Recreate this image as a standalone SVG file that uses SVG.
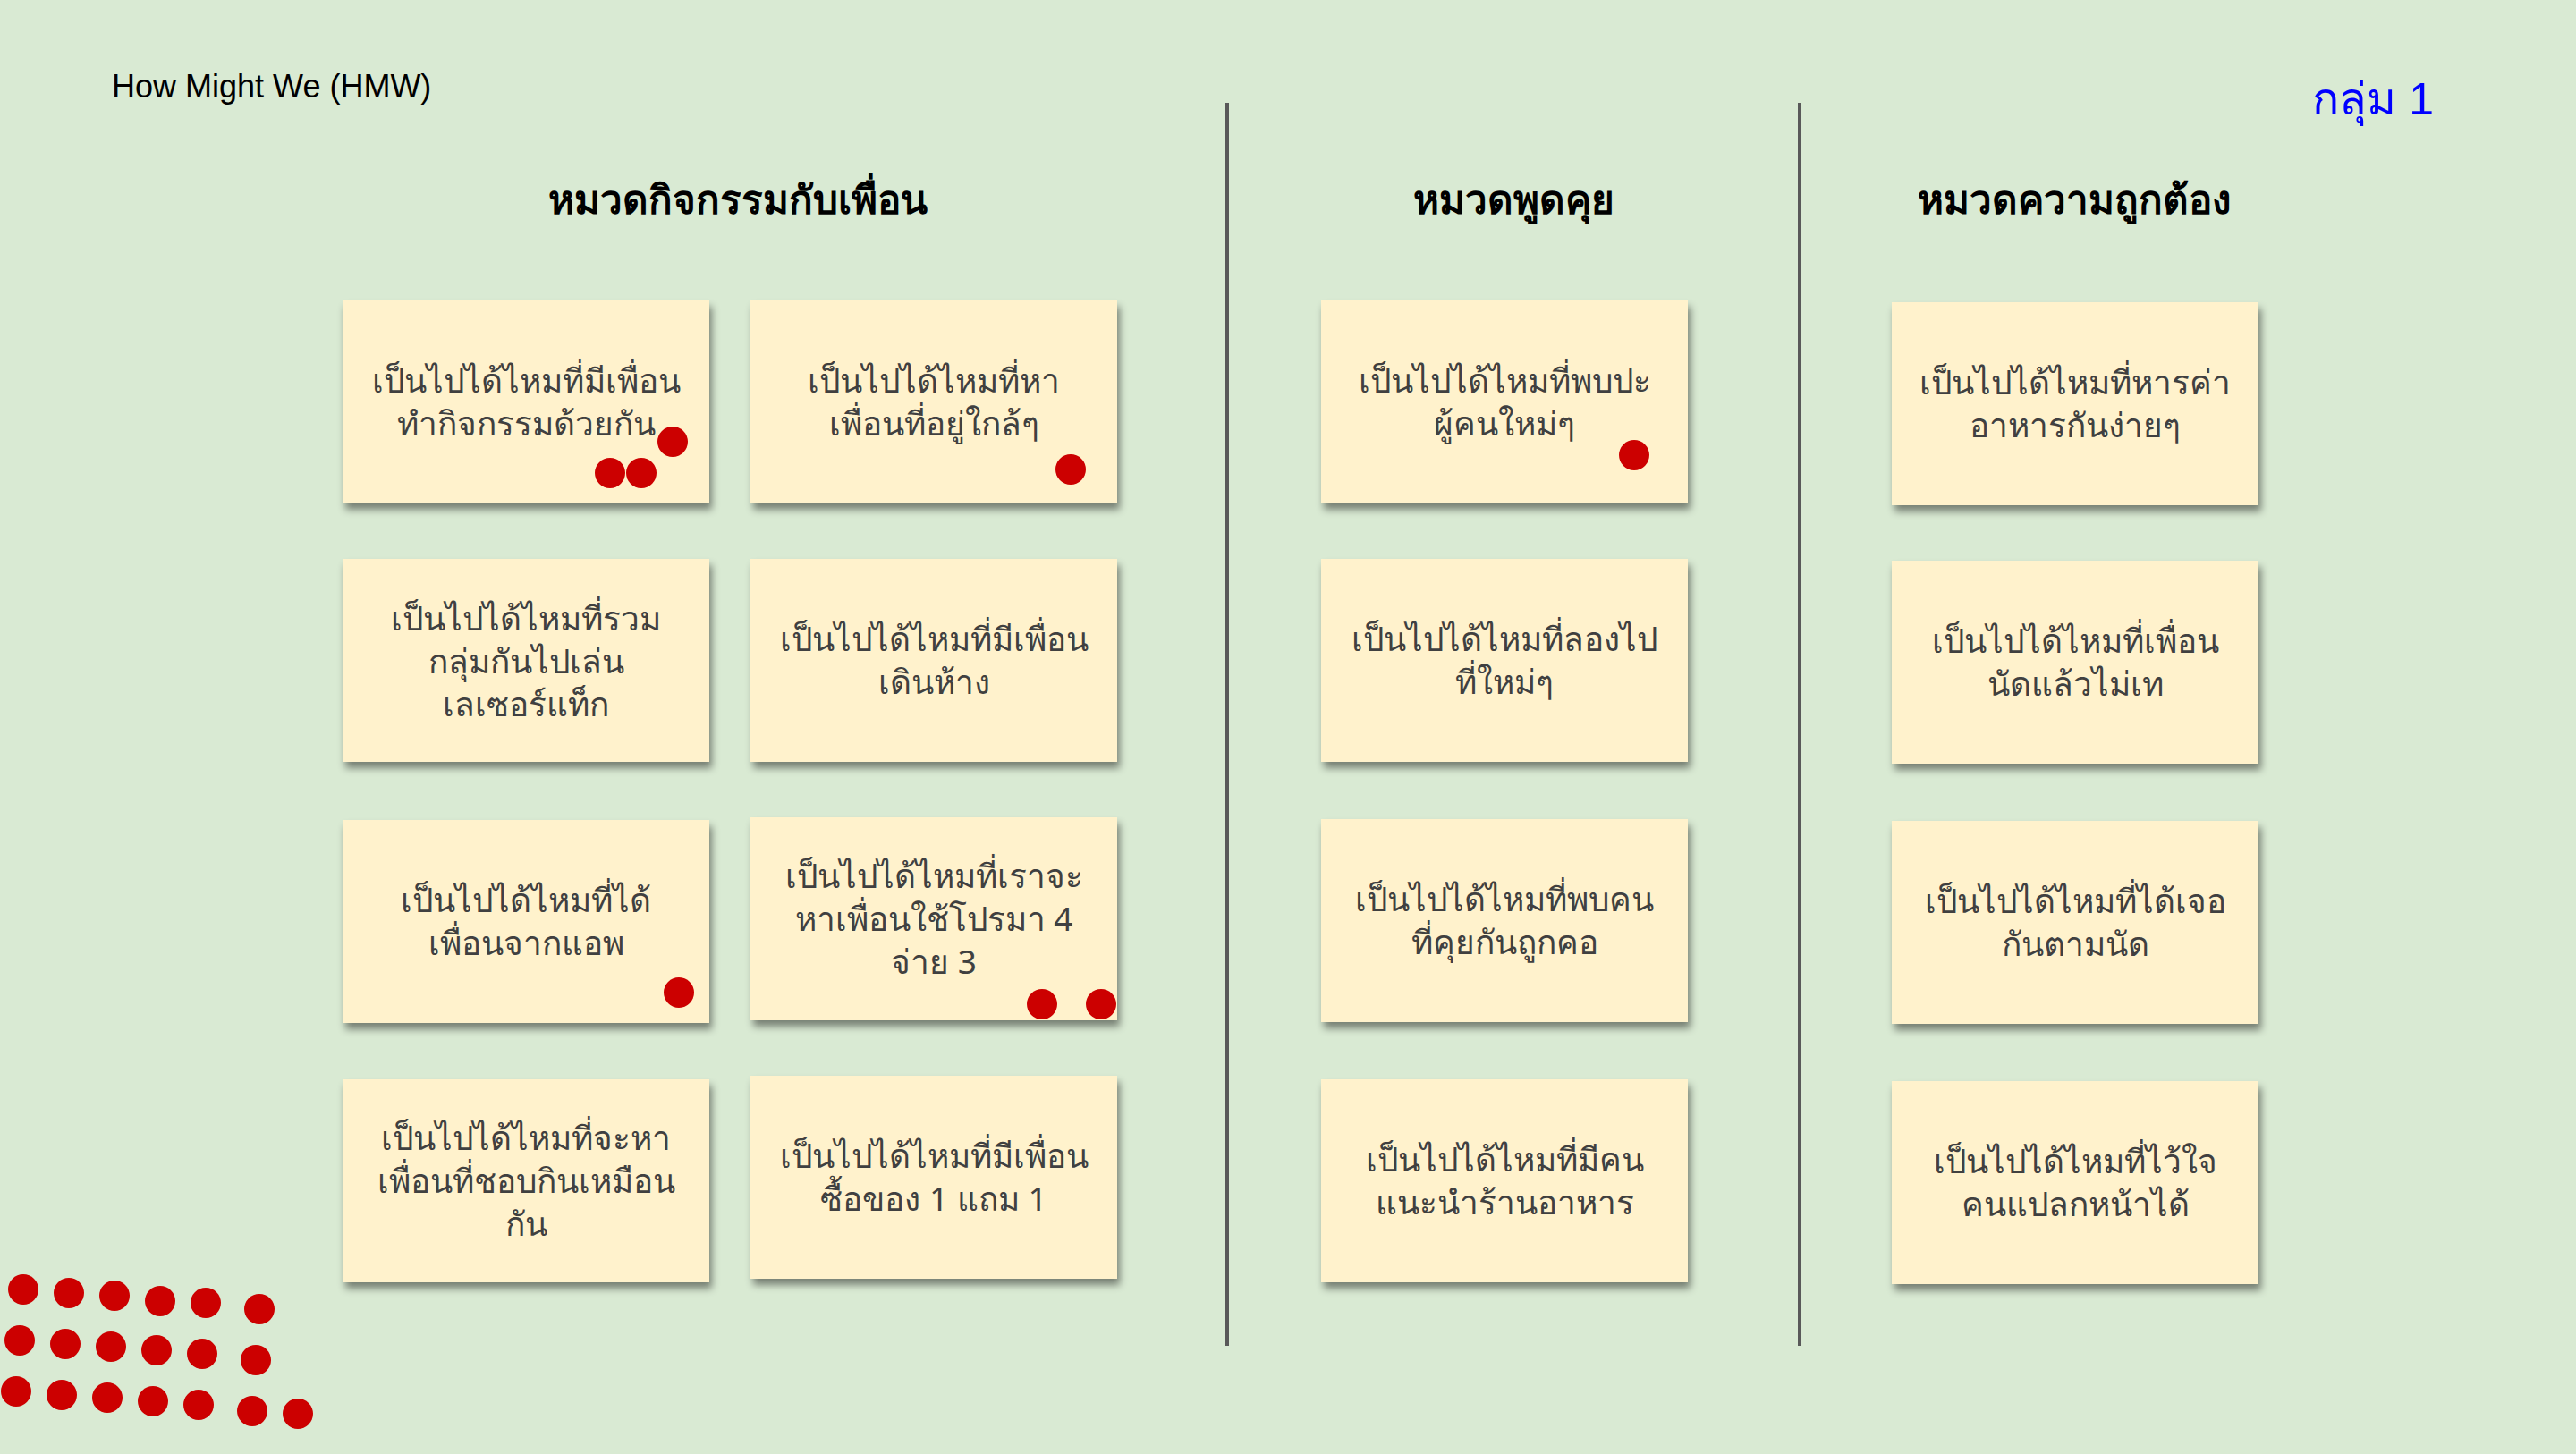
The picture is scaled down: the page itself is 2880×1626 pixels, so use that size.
<svg xmlns="http://www.w3.org/2000/svg" width="2880" height="1626" viewBox="0 0 2880 1626">
<defs>
<filter id="sh" x="-10%" y="-10%" width="125%" height="130%">
<feDropShadow dx="3" dy="7" stdDeviation="4" flood-color="#000" flood-opacity="0.45"/>
</filter>
<style>
.card{fill:#FFF2CC;filter:url(#sh);}
.ct{font-family:"Noto Sans",sans-serif;font-size:37px;fill:#404040;text-anchor:middle;}
.hd{font-family:"Noto Sans",sans-serif;font-size:44px;font-weight:bold;fill:#000;text-anchor:middle;}
.dot{fill:#CC0000;}
.div{stroke:#595959;stroke-width:4;}
</style>
</defs>
<rect width="2880" height="1626" fill="#D9EAD3"/>
<text x="125" y="109" font-family="Liberation Sans, Arial, sans-serif" font-size="36" fill="#000">How Might We (HMW)</text>
<text x="2721" y="128" font-family="Liberation Sans, Arial, sans-serif" font-size="50" fill="#0000FF" text-anchor="end">กลุ่ม 1</text>
<g id="dividers">
<line class="div" x1="1372" y1="115" x2="1372" y2="1505"/>
<line class="div" x1="2012" y1="115" x2="2012" y2="1505"/>
</g>
<g id="headers">
<text class="hd" x="825" y="239">หมวดกิจกรรมกับเพื่อน</text>
<text class="hd" x="1692" y="239">หมวดพูดคุย</text>
<text class="hd" x="2319" y="239">หมวดความถูกต้อง</text>
</g>
<g id="c1r1"><rect class="card" x="383" y="336" width="410" height="227"/><text class="ct" x="588" y="439">เป็นไปได้ไหมที่มีเพื่อน</text><text class="ct" x="588" y="487">ทำกิจกรรมด้วยกัน</text></g>
<g id="c2r1"><rect class="card" x="839" y="336" width="410" height="227"/><text class="ct" x="1044" y="439">เป็นไปได้ไหมที่หา</text><text class="ct" x="1044" y="487">เพื่อนที่อยู่ใกล้ๆ</text></g>
<g id="c1r2"><rect class="card" x="383" y="625" width="410" height="227"/><text class="ct" x="588" y="705">เป็นไปได้ไหมที่รวม</text><text class="ct" x="588" y="753">กลุ่มกันไปเล่น</text><text class="ct" x="588" y="801">เลเซอร์แท็ก</text></g>
<g id="c2r2"><rect class="card" x="839" y="625" width="410" height="227"/><text class="ct" x="1044" y="728">เป็นไปได้ไหมที่มีเพื่อน</text><text class="ct" x="1044" y="776">เดินห้าง</text></g>
<g id="c1r3"><rect class="card" x="383" y="917" width="410" height="227"/><text class="ct" x="588" y="1020">เป็นไปได้ไหมที่ได้</text><text class="ct" x="588" y="1068">เพื่อนจากแอพ</text></g>
<g id="c2r3"><rect class="card" x="839" y="914" width="410" height="227"/><text class="ct" x="1044" y="993">เป็นไปได้ไหมที่เราจะ</text><text class="ct" x="1044" y="1041">หาเพื่อนใช้โปรมา 4</text><text class="ct" x="1044" y="1089">จ่าย 3</text></g>
<g id="c1r4"><rect class="card" x="383" y="1207" width="410" height="227"/><text class="ct" x="588" y="1286">เป็นไปได้ไหมที่จะหา</text><text class="ct" x="588" y="1334">เพื่อนที่ชอบกินเหมือน</text><text class="ct" x="588" y="1382">กัน</text></g>
<g id="c2r4"><rect class="card" x="839" y="1203" width="410" height="227"/><text class="ct" x="1044" y="1306">เป็นไปได้ไหมที่มีเพื่อน</text><text class="ct" x="1044" y="1354">ซื้อของ 1 แถม 1</text></g>
<g id="c3r1"><rect class="card" x="1477" y="336" width="410" height="227"/><text class="ct" x="1682" y="439">เป็นไปได้ไหมที่พบปะ</text><text class="ct" x="1682" y="487">ผู้คนใหม่ๆ</text></g>
<g id="c3r2"><rect class="card" x="1477" y="625" width="410" height="227"/><text class="ct" x="1682" y="728">เป็นไปได้ไหมที่ลองไป</text><text class="ct" x="1682" y="776">ที่ใหม่ๆ</text></g>
<g id="c3r3"><rect class="card" x="1477" y="916" width="410" height="227"/><text class="ct" x="1682" y="1019">เป็นไปได้ไหมที่พบคน</text><text class="ct" x="1682" y="1067">ที่คุยกันถูกคอ</text></g>
<g id="c3r4"><rect class="card" x="1477" y="1207" width="410" height="227"/><text class="ct" x="1682" y="1310">เป็นไปได้ไหมที่มีคน</text><text class="ct" x="1682" y="1358">แนะนำร้านอาหาร</text></g>
<g id="c4r1"><rect class="card" x="2115" y="338" width="410" height="227"/><text class="ct" x="2320" y="441">เป็นไปได้ไหมที่หารค่า</text><text class="ct" x="2320" y="489">อาหารกันง่ายๆ</text></g>
<g id="c4r2"><rect class="card" x="2115" y="627" width="410" height="227"/><text class="ct" x="2320" y="730">เป็นไปได้ไหมที่เพื่อน</text><text class="ct" x="2320" y="778">นัดแล้วไม่เท</text></g>
<g id="c4r3"><rect class="card" x="2115" y="918" width="410" height="227"/><text class="ct" x="2320" y="1021">เป็นไปได้ไหมที่ได้เจอ</text><text class="ct" x="2320" y="1069">กันตามนัด</text></g>
<g id="c4r4"><rect class="card" x="2115" y="1209" width="410" height="227"/><text class="ct" x="2320" y="1312">เป็นไปได้ไหมที่ไว้ใจ</text><text class="ct" x="2320" y="1360">คนแปลกหน้าได้</text></g>
<g id="votes">
<circle class="dot" cx="752" cy="494" r="17"/><circle class="dot" cx="682" cy="529" r="17"/><circle class="dot" cx="717" cy="529" r="17"/>
<circle class="dot" cx="1197" cy="525" r="17"/>
<circle class="dot" cx="1827" cy="509" r="17"/>
<circle class="dot" cx="759" cy="1110" r="17"/>
<circle class="dot" cx="1165" cy="1123" r="17"/><circle class="dot" cx="1231" cy="1123" r="17"/>
</g>
<g id="dots">
<circle class="dot" cx="26" cy="1442" r="17"/><circle class="dot" cx="77" cy="1446" r="17"/><circle class="dot" cx="128" cy="1449" r="17"/><circle class="dot" cx="179" cy="1455" r="17"/><circle class="dot" cx="230" cy="1457" r="17"/><circle class="dot" cx="290" cy="1464" r="17"/>
<circle class="dot" cx="22" cy="1499" r="17"/><circle class="dot" cx="73" cy="1503" r="17"/><circle class="dot" cx="124" cy="1506" r="17"/><circle class="dot" cx="175" cy="1510" r="17"/><circle class="dot" cx="226" cy="1514" r="17"/><circle class="dot" cx="286" cy="1521" r="17"/>
<circle class="dot" cx="18" cy="1556" r="17"/><circle class="dot" cx="69" cy="1560" r="17"/><circle class="dot" cx="120" cy="1563" r="17"/><circle class="dot" cx="171" cy="1567" r="17"/><circle class="dot" cx="222" cy="1571" r="17"/><circle class="dot" cx="282" cy="1578" r="17"/><circle class="dot" cx="333" cy="1581" r="17"/>
</g>
</svg>
